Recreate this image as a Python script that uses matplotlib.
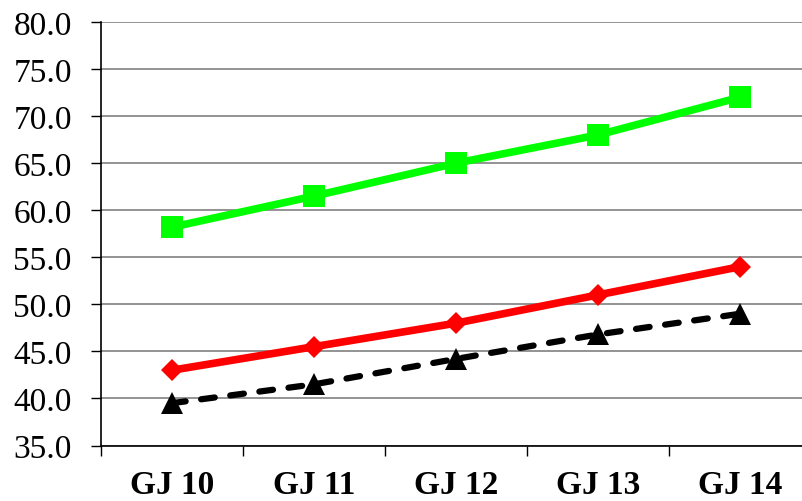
import numpy as np
import matplotlib
matplotlib.use('Agg')
import matplotlib.pyplot as plt

# Data
categories = ['GJ 10', 'GJ 11', 'GJ 12', 'GJ 13', 'GJ 14']
green_vals = [58.2, 61.5, 65.0, 68.0, 72.0]
red_vals = [43.0, 45.5, 48.0, 51.0, 54.0]
black_vals = [39.5, 41.5, 44.2, 46.8, 49.0]
y_ticks = [35, 40, 45, 50, 55, 60, 65, 70, 75, 80]

plt.rcParams['font.family'] = ['Liberation Serif', 'DejaVu Serif']

fig = plt.figure(figsize=(8.02, 5.02), dpi=100)
ax = fig.add_axes([101 / 802, 55.5 / 502, 710 / 802, 423.5 / 502])

x = np.arange(len(categories))

ax.plot(x, green_vals, color='#00FF00', lw=5.5, marker='s', ms=16.5,
        mec='#00FF00', mew=0, zorder=3)
ax.plot(x, red_vals, color='#FF0000', lw=5.5, marker='D', ms=11.5,
        mec='#FF0000', mew=0, zorder=3)
ax.plot(x, black_vals, color='black', lw=4.5, marker='^', ms=16,
        mec='black', mew=0, dashes=(2.2, 2.5), dash_capstyle='round', zorder=3)

ax.set_xlim(-0.5, len(categories) - 0.5)
ax.set_ylim(35, 80)
ax.set_yticks(y_ticks)
ax.set_yticklabels([f'{v:.1f}' for v in y_ticks])

# category labels centred, tick marks on the boundaries
ax.set_xticks(np.arange(len(categories) + 1) - 0.5)
ax.set_xticklabels([])
ax.set_xticks(x, minor=True)
ax.set_xticklabels(categories, minor=True, fontweight='bold')
ax.tick_params(axis='x', which='minor', length=0, pad=17, labelsize=24)
ax.tick_params(axis='x', which='major', length=7, width=1, direction='out')
ax.tick_params(axis='y', length=7, width=1, direction='out', pad=14, labelsize=24)

ax.yaxis.grid(True, color='#808080', lw=1.2)
ax.set_axisbelow(True)

for s in ['top', 'right']:
    ax.spines[s].set_visible(False)
ax.spines['left'].set_linewidth(1.2)
ax.spines['bottom'].set_linewidth(1.2)

fig.savefig('out.png', dpi=100)
